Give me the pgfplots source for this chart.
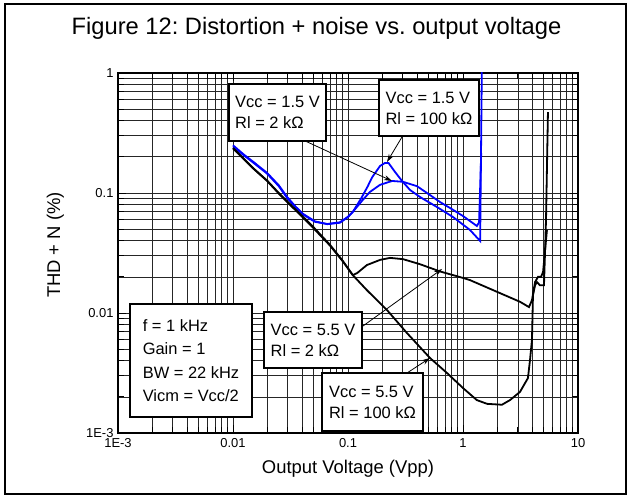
\documentclass[border=0pt]{standalone}
\usepackage{fontspec}
\setmainfont{Liberation Sans}
\usepackage{pgfplots}
\pgfplotsset{compat=1.18}
\usetikzlibrary{arrows.meta}
\frenchspacing
\begin{document}
\begin{tikzpicture}[x=1bp,y=1bp]
\useasboundingbox (0,0) rectangle (630,499);
\draw[line width=2bp] (4.5,4.5) rectangle (626,494.5);
\node[anchor=base, inner sep=0, font=\fontsize{23.8}{27}\selectfont] at (316.5,464) {Figure 12: Distortion + noise vs. output voltage};
\begin{axis}[at={(118bp,66bp)}, anchor=south west, scale only axis,
  width=460bp, height=360bp,
  xmode=log, ymode=log, xmin=1e-3, xmax=10, ymin=1e-3, ymax=1,
  xtick={0.001,0.01,0.1,1,10}, xticklabels={1E-3,0.01,0.1,1,10},
  ytick={0.001,0.01,0.1,1}, yticklabels={1E-3,0.01,0.1,1},
  grid=both,
  major grid style={black!85, line width=0.75bp},
  minor grid style={black!85, line width=0.75bp},
  axis line style={line width=1.8bp},
  tick style={black, line width=0.8bp},
  tick align=inside,
  major tick length=8bp, minor tick length=6bp,
  ticklabel style={font=\fontsize{13}{15}\selectfont},
  xticklabel style={yshift=-2bp},
  yticklabel style={xshift=-1bp},
]
% Vcc=1.5 V, Rl=2k (broad)
\addplot[blue, line width=1.8bp] coordinates {
(0.01,0.25) (0.0125,0.208) (0.015,0.182) (0.0198,0.147) (0.025,0.116) (0.0295,0.093)
(0.035,0.077) (0.0407,0.067) (0.0517,0.058) (0.066,0.055) (0.085,0.0565) (0.10,0.063)
(0.11,0.0695) (0.135,0.088) (0.155,0.102) (0.19,0.117) (0.242,0.126) (0.30,0.124)
(0.326,0.121) (0.398,0.114) (0.516,0.0962) (0.631,0.0841) (0.771,0.075) (1.0,0.0643)
(1.32,0.0531) (1.38,0.057) (1.44,0.215)
};
% Vcc=1.5 V, Rl=100k (sharp)
\addplot[blue, line width=1.8bp] coordinates {
(0.01,0.245) (0.0125,0.205) (0.015,0.179) (0.0198,0.145) (0.025,0.114) (0.0295,0.091)
(0.035,0.076) (0.0407,0.066) (0.0517,0.0575) (0.066,0.0552) (0.085,0.057) (0.10,0.0635)
(0.11,0.0695) (0.13,0.09) (0.148,0.113) (0.162,0.135) (0.19,0.168) (0.21,0.178)
(0.225,0.178) (0.256,0.150) (0.295,0.126) (0.346,0.106) (0.423,0.0926) (0.594,0.0764)
(0.818,0.0631) (1.15,0.0492) (1.41,0.0398) (1.46,1.2)
};
% Vcc=5.5 V, Rl=2k
\addplot[black, line width=1.8bp] coordinates {
(0.01,0.235) (0.0125,0.19) (0.015,0.16) (0.0198,0.126) (0.025,0.099) (0.03,0.083)
(0.0383,0.066) (0.05,0.051) (0.0697,0.0365) (0.09,0.027) (0.11,0.0207)
(0.12,0.0215) (0.146,0.0251) (0.19,0.0277) (0.232,0.0288) (0.301,0.0281) (0.423,0.0255)
(0.631,0.0222) (1.0,0.0196) (1.15,0.0188) (1.98,0.015) (3.13,0.0124) (3.75,0.0112)
(3.98,0.0128) (4.23,0.0181) (4.49,0.0200) (4.77,0.0200) (4.97,0.022) (5.27,0.0406) (5.37,0.049)
};
% Vcc=5.5 V, Rl=100k
\addplot[black, line width=1.8bp] coordinates {
(0.01,0.237) (0.0125,0.192) (0.015,0.161) (0.0198,0.127) (0.025,0.1) (0.03,0.084)
(0.0383,0.067) (0.05,0.052) (0.0697,0.037) (0.09,0.0272) (0.11,0.0207)
(0.146,0.0155) (0.218,0.0106) (0.326,0.0068) (0.516,0.00422) (0.726,0.00316) (1.0,0.00237)
(1.32,0.00188) (1.62,0.00175) (2.18,0.00172) (2.56,0.00188) (3.13,0.0022) (3.67,0.00287)
(3.83,0.0041) (3.98,0.006) (4.06,0.0141) (4.23,0.017) (4.40,0.0181) (4.67,0.017)
(5.06,0.017) (5.27,0.0596) (5.48,0.473)
};
\end{axis}
% axis labels
\node[anchor=base, inner sep=0, font=\fontsize{18.5}{22}\selectfont] at (348,25) {Output Voltage (Vpp)};
\node[anchor=base, rotate=90, inner sep=0, font=\fontsize{18.5}{22}\selectfont] at (60,254) {THD + N (\%)};
% arrows
\begin{scope}[line width=0.8bp, -{Stealth[length=8bp,width=5bp]}]
\draw (303,359) -- (392,318);
\draw (402,362) -- (387,337);
\draw (363,173) -- (442,230);
\draw (407,126) -- (430,141);
\end{scope}
% boxes
\begin{scope}[every node/.style={draw, line width=1.3bp, fill=white, inner sep=0, align=left, font=\fontsize{16.5}{21}\selectfont}]
\node[minimum width=97bp, minimum height=57bp] at (277.5,386.5) {Vcc = 1.5 V\\Rl = 2 kΩ};
\node[minimum width=100bp, minimum height=56bp] at (429,391) {Vcc = 1.5 V\\Rl = 100 kΩ};
\node[minimum width=98bp, minimum height=56bp] at (313,159) {Vcc = 5.5 V\\Rl = 2 kΩ};
\node[minimum width=101bp, minimum height=58bp] at (372.5,97) {Vcc = 5.5 V\\Rl = 100 kΩ};
\node[minimum width=122bp, minimum height=113bp, font=\fontsize{16.5}{23.5}\selectfont] at (191,138.5) {f = 1 kHz\\Gain = 1\\BW = 22 kHz\\Vicm = Vcc/2};
\end{scope}
\end{tikzpicture}
\end{document}
